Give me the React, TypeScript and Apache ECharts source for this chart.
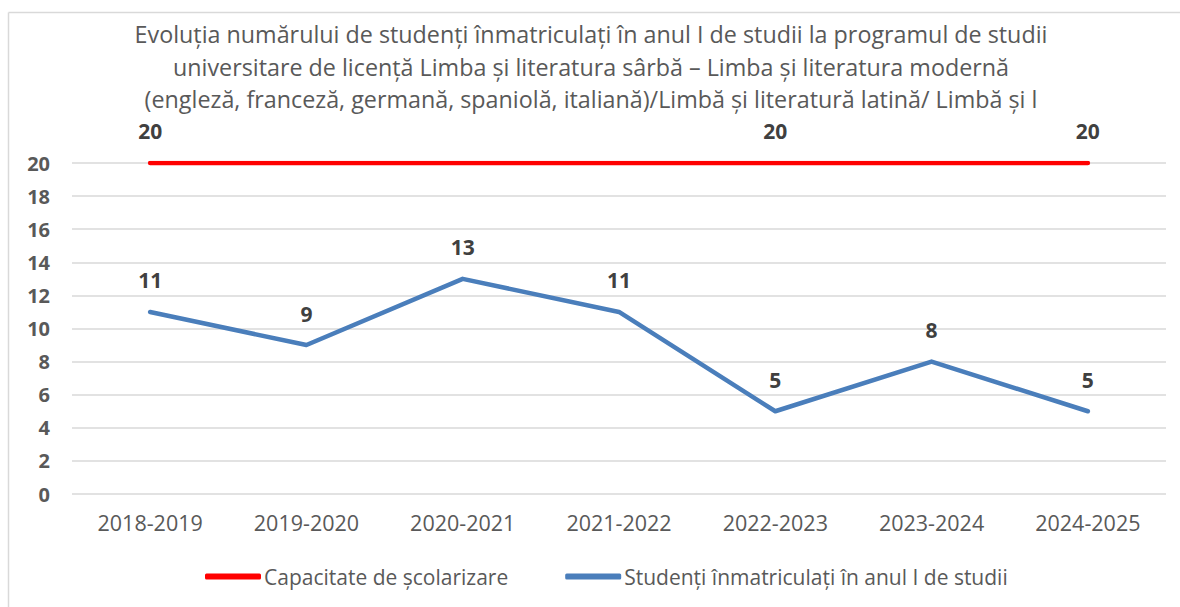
import React, { useEffect, useRef } from "react";
import * as echarts from "echarts";

const categories = ["2018-2019", "2019-2020", "2020-2021", "2021-2022", "2022-2023", "2023-2024", "2024-2025"];
const capacity = [20, 20, 20, 20, 20, 20, 20];
const capacityLabelShown = [true, false, false, false, true, false, true];
const enrolled = [11, 9, 13, 11, 5, 8, 5];
const yTicks = { min: 0, max: 20, interval: 2 };
const titleText =
  "Evoluția numărului de studenți înmatriculați în anul I de studii la programul de studii\n" +
  "universitare de licență Limba și literatura sârbă – Limba și literatura modernă\n" +
  "(engleză, franceză, germană, spaniolă, italiană)/Limbă și literatură latină/ Limbă și l";
const seriesNames = ["Capacitate de școlarizare", "Studenți înmatriculați în anul I de studii"];

const FONT = "'Open Sans', 'Liberation Sans', Arial, sans-serif";

export default function App() {
  const ref = useRef<HTMLDivElement>(null);
  useEffect(() => {
    if (!ref.current) return;
    const chart = echarts.init(ref.current, undefined, { renderer: "svg" });
    const labelStyle = { show: true, position: "top", distance: 21, fontSize: 21, fontWeight: "bold", color: "#404040", fontFamily: FONT };
    chart.setOption({
      animation: false,
      backgroundColor: "#ffffff",
      textStyle: { fontFamily: FONT },
      graphic: [
        { type: "line", shape: { x1: 8.5, y1: 12.5, x2: 1180, y2: 12.5 }, style: { stroke: "#d9d9d9", lineWidth: 1.5 } },
        { type: "line", shape: { x1: 8.5, y1: 12.5, x2: 8.5, y2: 607 }, style: { stroke: "#d9d9d9", lineWidth: 1.5 } },
        {
          type: "text",
          x: 591,
          y: 18,
          style: { text: titleText, textAlign: "center", fontSize: 23.3, fill: "#595959", lineHeight: 32.5, fontFamily: FONT },
        },
      ],
      legend: {
        bottom: 15,
        left: 200,
        itemWidth: 56,
        itemHeight: 6,
        itemGap: 57,
        icon: "roundRect",
        textStyle: { fontSize: 21, color: "#595959", fontFamily: FONT, padding: [0, 0, 0, -2] },
        data: seriesNames,
      },
      grid: { left: 72, right: 14, top: 163, bottom: 113, containLabel: false },
      xAxis: {
        type: "category",
        data: categories,
        boundaryGap: true,
        axisLine: { show: false },
        axisTick: { show: false },
        axisLabel: { fontSize: 21.5, color: "#595959", margin: 17, fontFamily: FONT },
      },
      yAxis: {
        type: "value",
        min: yTicks.min,
        max: yTicks.max,
        interval: yTicks.interval,
        axisLine: { show: false },
        axisTick: { show: false },
        axisLabel: { fontSize: 20, fontWeight: "bold", color: "#595959", margin: 22, fontFamily: FONT },
        splitLine: { lineStyle: { color: "#d9d9d9", width: 1.5 } },
      },
      series: [
        {
          name: seriesNames[0],
          type: "line",
          data: capacity.map((v, i) => ({ value: v, label: { show: capacityLabelShown[i] } })),
          symbol: "circle",
          symbolSize: 0.1,
          showSymbol: true,
          lineStyle: { color: "#ff0000", width: 4.5, cap: "round", join: "round" },
          itemStyle: { color: "#ff0000" },
          label: labelStyle,
          z: 3,
        },
        {
          name: seriesNames[1],
          type: "line",
          data: enrolled,
          symbol: "circle",
          symbolSize: 0.1,
          showSymbol: true,
          lineStyle: { color: "#4a7ebb", width: 4.5, cap: "round", join: "round" },
          itemStyle: { color: "#4a7ebb" },
          label: labelStyle,
          z: 2,
        },
      ],
    });
    return () => chart.dispose();
  }, []);
  return <div ref={ref} style={{ position: "absolute", left: 0, top: 0, width: 1180, height: 607 }} />;
}
